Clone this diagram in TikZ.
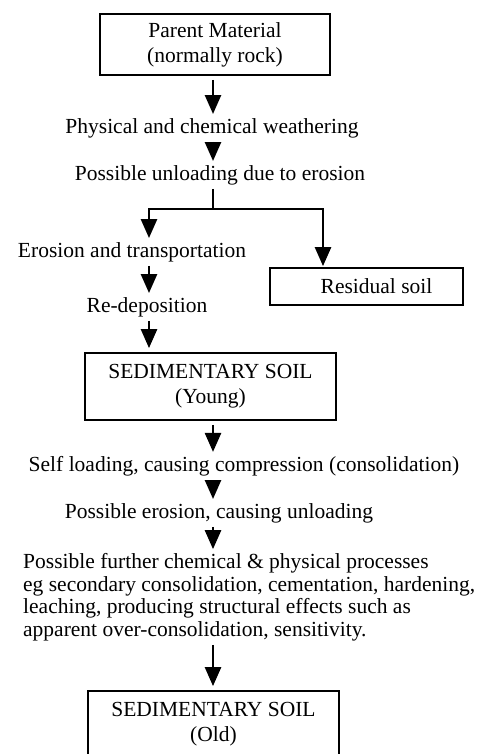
\documentclass[tikz,border=0pt]{standalone}
\usepackage{fontspec}
\setmainfont{Liberation Serif}
\usetikzlibrary{arrows.meta,positioning}
\tikzset{
  stagebox/.style={draw, line width=1.8pt, align=center, inner sep=0pt},
  steptext/.style={align=center, inner sep=0pt},
  flow/.style={-{Triangle[width=16pt,length=19pt]}, line width=2.6pt,
    shorten <=4pt, shorten >=4pt},
  trunk/.style={line width=2.6pt},
}
\begin{document}
\begin{tikzpicture}[x=1pt, y=-1pt, font=\fontsize{21.5}{25}\selectfont]
  \clip (0,0) rectangle (487,754);
  \coordinate (spine) at (213,0);
  \coordinate (lcol) at (149,0);
  \coordinate (rcol) at (323,0);
  \coordinate (fork) at (213,209);

  \node[stagebox, minimum width=230pt, minimum height=61pt] (parent) at (215,44.5)
    {Parent Material\\(normally rock)};
  \node[steptext] (weather) at (212,128) {Physical and chemical weathering};
  \node[steptext] (unload) at (220,175) {Possible unloading due to erosion};
  \node[steptext] (erosion) at (132,252) {Erosion and transportation};
  \node[steptext] (redep) at (147,307) {Re-deposition};
  \node[stagebox, minimum width=193pt, minimum height=37pt] (residual) at (366.5,286.5)
    {\hspace{20pt}Residual soil};
  \node[stagebox, minimum width=251pt, minimum height=67pt] (young) at (210.5,386.5)
    {SEDIMENTARY SOIL\\(Young)};
  \node[steptext] (selfload) at (244,466) {Self loading, causing compression (consolidation)};
  \node[steptext] (erosion2) at (219,513) {Possible erosion, causing unloading};
  \node[steptext, align=left, anchor=west, font=\fontsize{21.5}{22.5}\selectfont] (further) at (23,597)
    {Possible further chemical \& physical processes\\
     eg secondary consolidation, cementation, hardening,\\
     leaching, producing structural effects such as\\
     apparent over-consolidation, sensitivity.};
  \node[stagebox, minimum width=251pt, minimum height=67pt] (old) at (213.5,724.5)
    {SEDIMENTARY SOIL\\(Old)};

  \draw[flow] (parent.south -| spine) -- (weather.north -| spine);
  \draw[flow] (weather.south -| spine) -- (unload.north -| spine);
  \draw[trunk, shorten <=4pt] (unload.south -| spine) -- (fork);
  \draw[flow, shorten <=0pt] (fork) -| (erosion.north -| lcol);
  \draw[flow, shorten <=0pt, shorten >=1pt] (fork) -| (residual.north -| rcol);
  \draw[flow] (erosion.south -| lcol) -- (redep.north -| lcol);
  \draw[flow] (redep.south -| lcol) -- (young.north -| lcol);
  \draw[flow] (young.south -| spine) -- (selfload.north -| spine);
  \draw[flow] (selfload.south -| spine) -- (erosion2.north -| spine);
  \draw[flow] (erosion2.south -| spine) -- (further.north -| spine);
  \draw[flow] (further.south -| spine) -- (old.north -| spine);
\end{tikzpicture}
\end{document}
